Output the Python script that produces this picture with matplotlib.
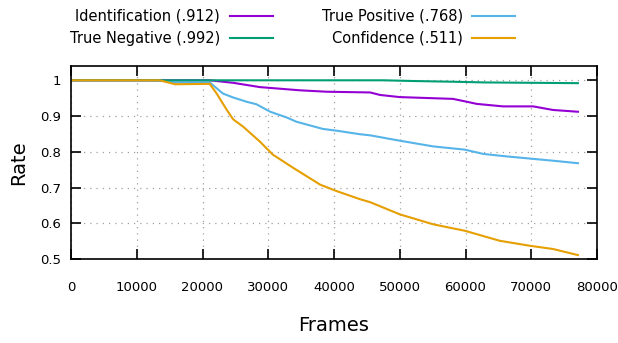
import matplotlib
matplotlib.use("Agg")
import matplotlib.pyplot as plt
from matplotlib.lines import Line2D

plt.rcParams['font.family'] = ['DejaVu Sans']

# ==== data ====
id_x = [0, 21100, 24650, 28700, 34800, 38900, 45500, 47000, 50000,
        58100, 60200, 61700, 65700, 70300, 73300, 77100]
id_y = [1.0, 1.0, 0.993, 0.981, 0.972, 0.968, 0.966, 0.959, 0.953,
        0.948, 0.940, 0.934, 0.927, 0.927, 0.917, 0.912]

tp_x = [0, 13000, 15800, 21100, 23100, 24650, 26700, 28200, 30300, 32800,
        34300, 38300, 40400, 44000, 45500, 50000, 55100, 59900, 62700,
        66300, 69800, 73300, 77100]
tp_y = [1.0, 1.0, 0.994, 0.994, 0.963, 0.952, 0.940, 0.933, 0.912, 0.896,
        0.884, 0.864, 0.859, 0.849, 0.846, 0.831, 0.815, 0.806, 0.794,
        0.787, 0.781, 0.775, 0.768]

tn_x = [0, 47500, 52000, 58000, 63000, 77100]
tn_y = [1.0, 1.0, 0.998, 0.996, 0.994, 0.992]

cf_x = [0, 13500, 15800, 21100, 22150, 23700, 24650, 26200, 28700, 30700,
        33800, 37900, 40400, 44000, 45500, 50000, 55100, 59900, 65200,
        69800, 73300, 77100]
cf_y = [1.0, 1.0, 0.989, 0.990, 0.963, 0.917, 0.891, 0.870, 0.829, 0.792,
        0.755, 0.708, 0.690, 0.667, 0.659, 0.625, 0.597, 0.579, 0.551,
        0.537, 0.528, 0.511]

labels = ["Identification (.912)", "True Positive (.768)",
          "True Negative (.992)", "Confidence (.511)"]
colors = ["#9400d3", "#56b4e9", "#009e73", "#e69f00"]

xticks = [0, 10000, 20000, 30000, 40000, 50000, 60000, 70000, 80000]
yticks = [0.5, 0.6, 0.7, 0.8, 0.9, 1.0]
ytick_labels = ["0.5", "0.6", "0.7", "0.8", "0.9", "1"]

W, H = 618, 343
fig = plt.figure(figsize=(W / 100, H / 100), dpi=100)
ax = fig.add_axes([71 / W, 1 - 259 / H, (597 - 71) / W, (259 - 66) / H])

series = [(id_x, id_y), (tp_x, tp_y), (tn_x, tn_y), (cf_x, cf_y)]
for (xs, ys), c in zip(series, colors):
    ax.plot(xs, ys, color=c, lw=1.5, solid_joinstyle="miter")

ax.set_xlim(0, 80000)
ax.set_ylim(0.5, 1.04)
ax.set_xticks(xticks)
ax.set_yticks(yticks)
ax.set_yticklabels(ytick_labels)
ax.tick_params(direction="in", length=7, width=1.2, top=True, right=True,
               labelsize=9.5)
ax.tick_params(axis="x", pad=16)
ax.tick_params(axis="y", pad=7)
ax.grid(True, color="#a0a0a0", linestyle=(0, (1, 4)), lw=0.9)
for s in ax.spines.values():
    s.set_linewidth(1.2)

ax.set_ylabel("Rate", fontsize=14, labelpad=9)
ax.set_xlabel("Frames", fontsize=14, labelpad=16)

# ==== key (gnuplot style: text right, sample line after) ====
key = [(labels[0], colors[0], 220, 230, 16),
       (labels[2], colors[2], 220, 230, 38),
       (labels[1], colors[1], 463, 472, 16),
       (labels[3], colors[3], 463, 472, 38)]
for txt, c, tx, lx, ty in key:
    fig.text(tx / W, 1 - ty / H, txt, ha="right", va="center", fontsize=10.5)
    fig.add_artist(Line2D([lx / W, (lx + 43) / W], [1 - ty / H, 1 - ty / H],
                          color=c, lw=1.5, transform=fig.transFigure))

plt.savefig("out.png", dpi=100)
plt.close()
